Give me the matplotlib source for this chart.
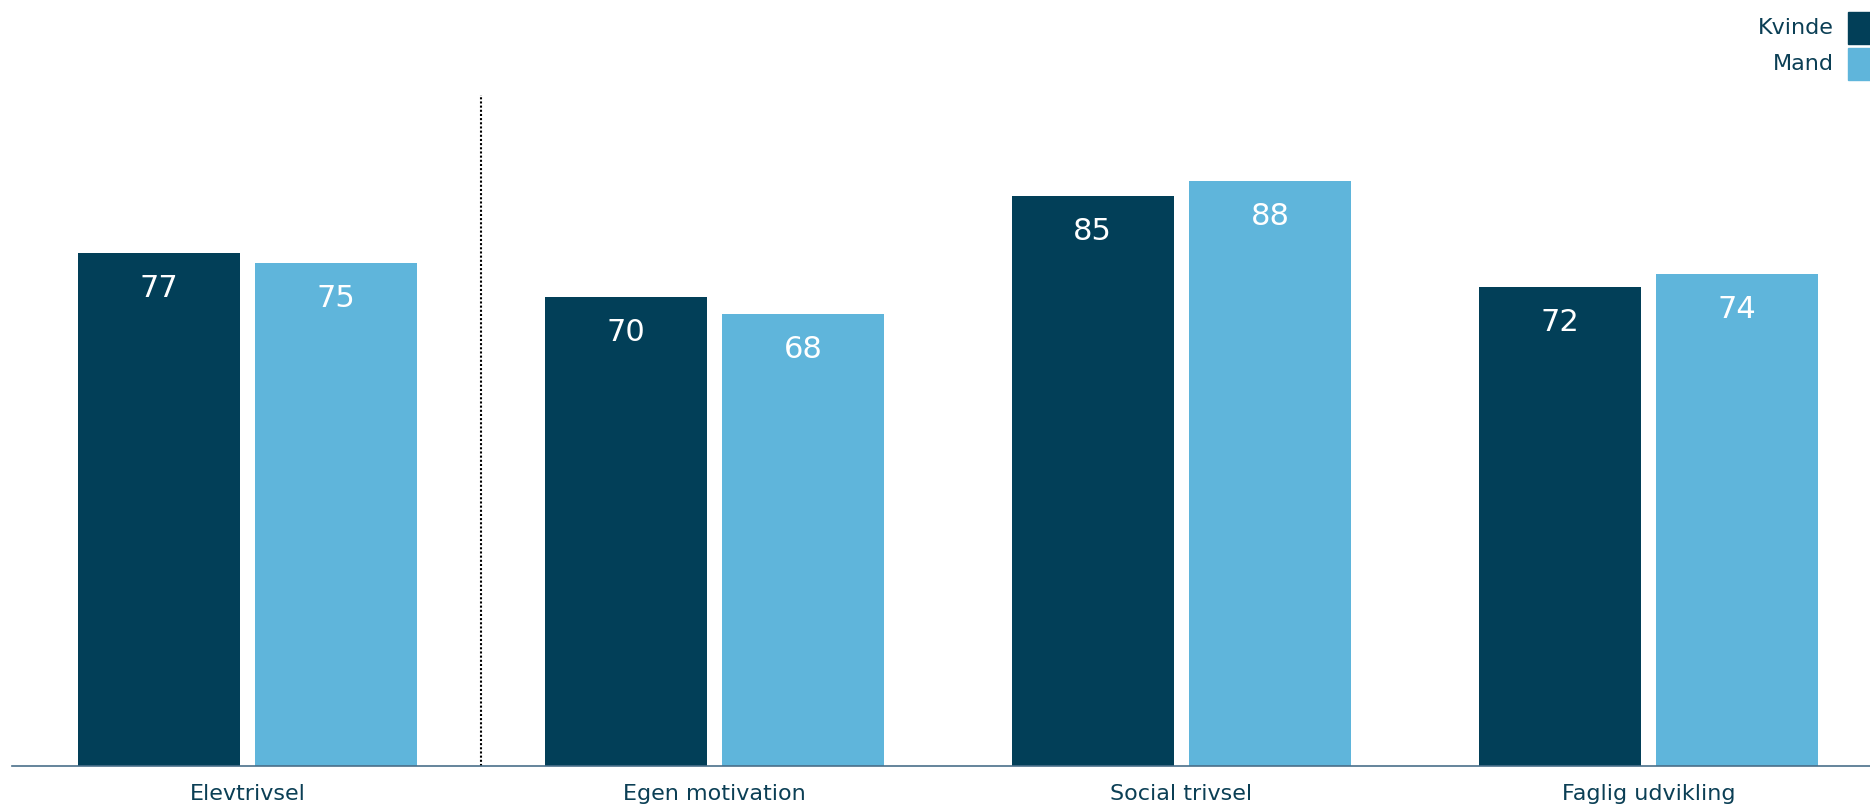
import numpy as np
import matplotlib.pyplot as plt
from matplotlib.patches import Rectangle

# Data (bar heights, labels shown rounded)
categories = ["Elevtrivsel", "Egen motivation", "Social trivsel", "Faglig udvikling"]
kvinde = [76.8, 70.2, 85.4, 71.7]
mand = [75.3, 67.6, 87.6, 73.6]
series_names = ["Kvinde", "Mand"]

colours = ['#023F58', '#5FB5DB']
text_colour = '#0B3F55'

W, H = 1870, 807
base_px, top_px = 765.5, 98.2
fig = plt.figure(figsize=(W / 100, H / 100), dpi=100)
ax = fig.add_axes([12 / W, (H - base_px) / H, 1 - 12 / W, (base_px - top_px) / H])

x = np.arange(len(categories))
width = 0.347
offset = 0.19
for vals, off, col in zip([kvinde, mand], [-offset, offset], colours):
    bars = ax.bar(x + off, vals, width=width, color=col)
    for b, v in zip(bars, vals):
        ax.text(b.get_x() + b.get_width() / 2, v - 6.6, "%d" % round(v), ha='center',
                va='baseline', color='white', fontsize=22)

# dotted separator after first group
ax.plot([0.5, 0.5], [0, 100.5], color='black', linestyle=(0, (1, 1)), lw=1.5, clip_on=False)

ax.set_xlim(-0.504, 3.474)
ax.set_ylim(0, 100)
ax.set_xticks(x)
ax.set_xticklabels(categories, fontsize=16, color=text_colour)
ax.tick_params(axis='x', length=0, pad=13)
ax.set_yticks([])
for s in ['top', 'right', 'left']:
    ax.spines[s].set_visible(False)
ax.spines['bottom'].set_color('#4A6F8A')
ax.spines['bottom'].set_linewidth(1.2)

# legend, drawn by hand at top right
for i, (name, col) in enumerate(zip(series_names, colours)):
    y0 = 12 + i * 36
    fig.patches.append(Rectangle((1848 / W, 1 - (y0 + 32) / H), 22 / W, 32 / H,
                                 transform=fig.transFigure, color=col))
    fig.text(1834 / W, 1 - (y0 + 16) / H, name, ha='right', va='center',
             fontsize=16, color=text_colour)

plt.savefig("out.png", dpi=100)
